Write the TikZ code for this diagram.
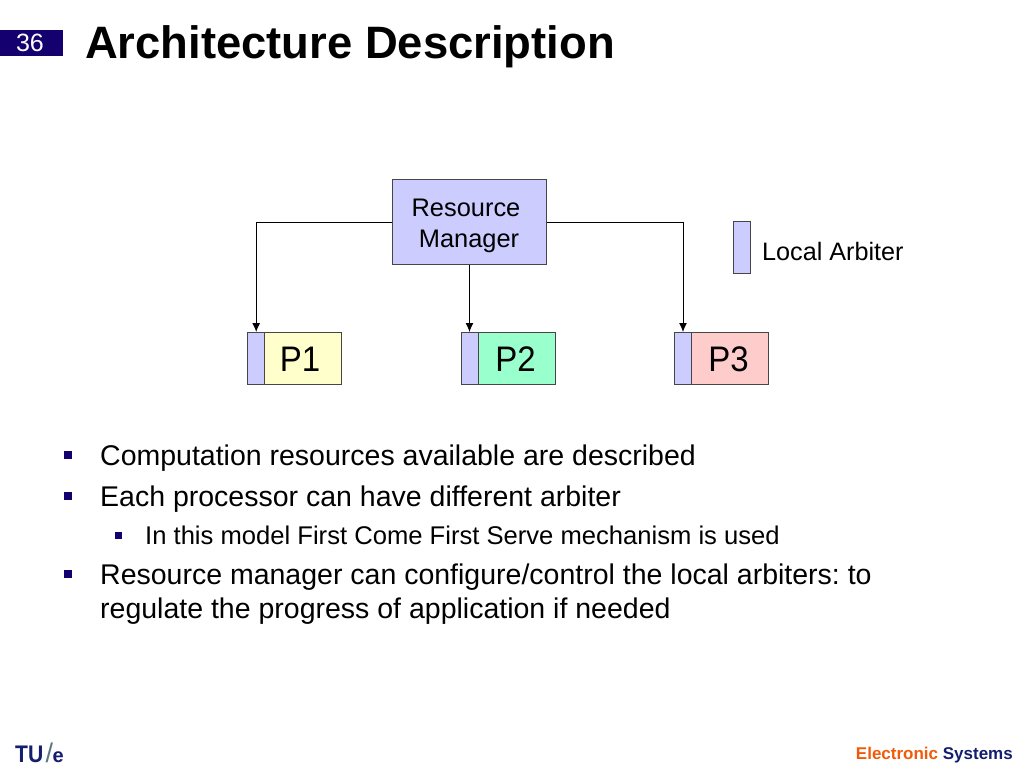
\documentclass[tikz,border=0pt]{standalone}
\usepackage{fontspec}
\setmainfont{Liberation Sans}
\usetikzlibrary{arrows.meta}
\definecolor{navy}{RGB}{20,0,110}
\definecolor{arb}{RGB}{204,204,255}
\definecolor{tue}{RGB}{20,30,110}
\definecolor{tuegray}{RGB}{90,120,130}
\definecolor{orangeE}{RGB}{240,90,10}
\definecolor{edgegray}{RGB}{70,70,70}
\frenchspacing
\tikzset{
  x=1pt,y=-1pt,
  boxst/.style={draw=edgegray,line width=1pt,inner sep=0pt,minimum height=52pt,anchor=north west},
  arbiter/.style={boxst,fill=arb,minimum width=17pt},
  proc/.style={boxst,minimum width=77pt},
  conn/.style={draw=black,line width=1pt,-{Latex[length=9pt,width=8pt]}},
  txt/.style={anchor=base west,inner sep=0pt,font=\fontsize{28.5}{28.5}\selectfont},
  subtxt/.style={anchor=base west,inner sep=0pt,font=\fontsize{25.6}{25.6}\selectfont},
  bul/.style={fill=navy,inner sep=0pt,minimum size=8.5pt},
  subbul/.style={fill=navy,inner sep=0pt,minimum size=7pt},
  ptext/.style={anchor=base,inner sep=0pt,transform shape,xscale=.93,font=\fontsize{35.5}{35.5}\selectfont},
  rmtext/.style={anchor=base,inner sep=0pt,font=\fontsize{25.4}{25.4}\selectfont}
}
\begin{document}
\begin{tikzpicture}
\useasboundingbox (0,0) rectangle (1024,768);
\fill[white] (0,0) rectangle (1024,768);
% page number and title
\node[fill=navy,minimum width=63pt,minimum height=26pt,inner sep=0pt,anchor=north west] (numbar) at (0,30) {};
\node[anchor=base,inner sep=0pt,text=white,font=\fontsize{25}{25}\selectfont] (num) at (30,52) {36};
\node[anchor=base west,inner sep=0pt,font=\bfseries\fontsize{45.4}{45.4}\selectfont] (title) at (85,59) {Architecture Description};
% diagram
\node[draw=edgegray,line width=1pt,fill=arb,inner sep=0pt,minimum width=154pt,minimum height=85pt,anchor=north west] (rm) at (392,179) {};
\node[rmtext] (rm1) at (466,216) {Resource};
\node[rmtext] (rm2) at (469,247) {Manager};
\node[proc,fill={rgb,255:red,255;green,255;blue,204}] (p1) at (264.2,332) {};
\node[arbiter] (a1) at (247.2,332) {};
\node[proc,fill={rgb,255:red,153;green,255;blue,204}] (p2) at (478,332) {};
\node[arbiter] (a2) at (461,332) {};
\node[proc,fill={rgb,255:red,255;green,204;blue,204}] (p3) at (691,332) {};
\node[arbiter] (a3) at (674,332) {};
\node[ptext] (p1t) at (300,371) {P1};
\node[ptext] (p2t) at (515.5,371) {P2};
\node[ptext] (p3t) at (728.5,371) {P3};
\node[arbiter] (legend) at (733,221) {};
\node[anchor=base west,inner sep=0pt,font=\fontsize{25.2}{25.2}\selectfont] (legendt) at (762,260) {Local Arbiter};
\draw[conn] (rm.west) -| (a1.north);
\draw[conn] (rm.south) -- (rm.south |- a2.north);
\draw[conn] (rm.east) -| (a3.north);
% bullets
\node[bul] (b1) at (68,455) {};
\node[txt] (t1) at (100,465) {Computation resources available are described};
\node[bul] (b2) at (68,496) {};
\node[txt] (t2) at (100,506) {Each processor can have different arbiter};
\node[subbul] (b3) at (118.5,535) {};
\node[subtxt] (t3) at (145,544) {In this model First Come First Serve mechanism is used};
\node[bul] (b4) at (68,574) {};
\node[txt] (t4) at (100,584) {Resource manager can configure/control the local arbiters: to};
\node[txt] (t5) at (100,618) {regulate the progress of application if needed};
% footer
\node[anchor=base west,inner sep=0pt,text=tue,transform shape,xscale=.88,font=\bfseries\fontsize{24}{24}\selectfont] (tu) at (15,762) {TU};
\node[anchor=base west,inner sep=0pt,text=tuegray,font=\fontsize{27}{27}\selectfont] (slash) at (45.5,762) {/};
\node[anchor=base west,inner sep=0pt,text=tue,font=\bfseries\fontsize{20}{20}\selectfont] (e) at (52.5,762) {e};
\node[anchor=base east,inner sep=0pt,font=\bfseries\fontsize{17}{17}\selectfont] (footer) at (1013,759) {\textcolor{orangeE}{Electronic} \textcolor{tue}{Systems}};
\end{tikzpicture}
\end{document}
